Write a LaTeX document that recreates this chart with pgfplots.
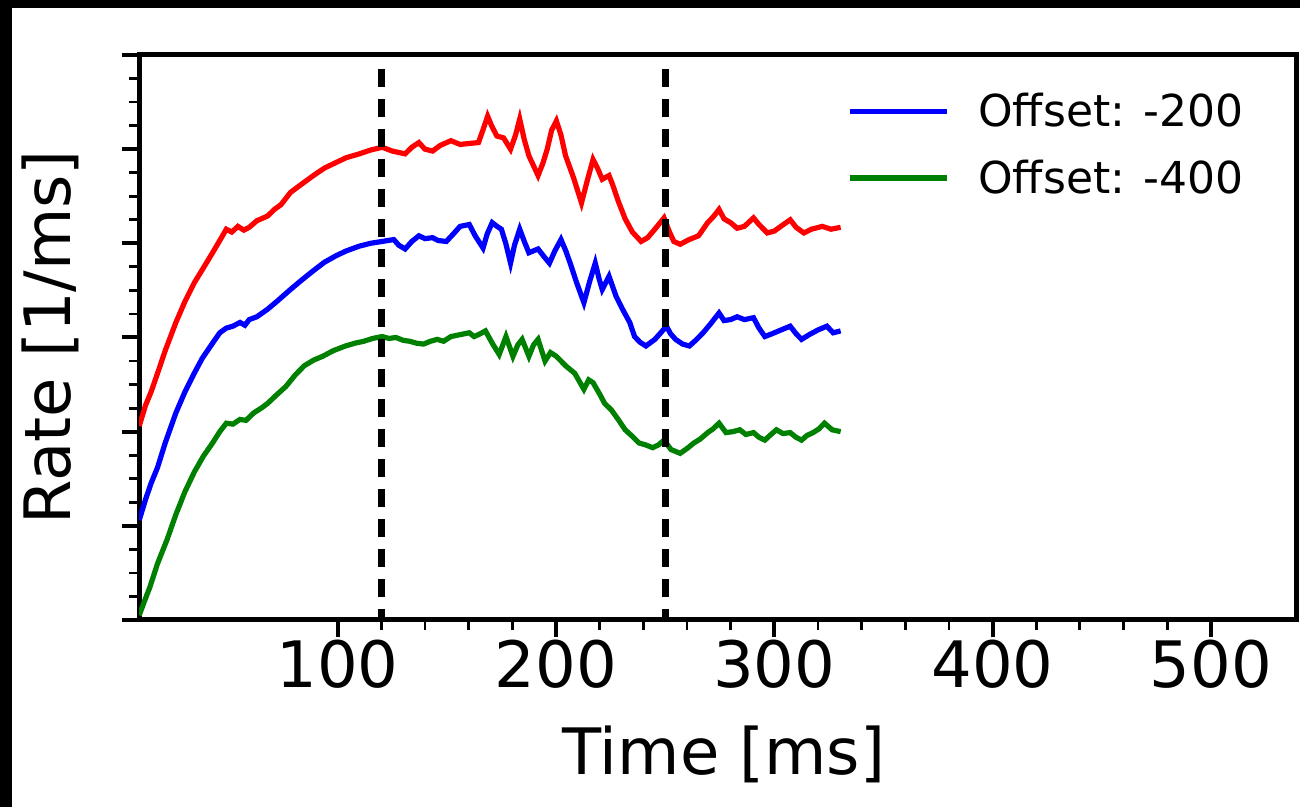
\documentclass[border=0pt]{standalone}
\usepackage{pgfplots}
\pgfplotsset{compat=1.18}
\usepackage{pgfplotstable}
\usepackage{fontspec}
\setmainfont{DejaVu Sans}

\definecolor{mplred}{RGB}{255,0,0}
\definecolor{mplblue}{RGB}{0,0,255}
\definecolor{mplgreen}{RGB}{0,128,0}

% firing rate traces (time in ms, rate in 1/ms, stacked)
\pgfplotstableread{
t r
9.1 2.06
12 2.28
14.5 2.42
17.5 2.62
21 2.86
25.9 3.16
30 3.38
34.3 3.58
38 3.72
42.7 3.90
46 4.03
49.0 4.15
51.5 4.12
54.3 4.18
57 4.14
59.5 4.17
63 4.24
67.9 4.29
71 4.36
74 4.41
78.4 4.54
83 4.62
88.9 4.72
94 4.80
99.4 4.86
104 4.91
109.9 4.95
115 4.99
120.4 5.02
125 4.98
130.9 4.95
134 5.02
137.2 5.07
140 5.00
143.5 4.98
147 5.04
151.9 5.09
156.1 5.05
160 5.06
164.5 5.07
166.5 5.20
168.7 5.35
170.5 5.25
172.9 5.14
176 5.12
179.2 5.00
181.5 5.15
183.4 5.32
185.5 5.10
187.6 4.93
191.8 4.72
194 4.85
196.0 5.00
198 5.20
200.2 5.30
202.3 5.15
204.4 4.93
208 4.70
211.7 4.43
214.5 4.68
217.0 4.89
219 4.80
221.2 4.68
224.3 4.72
226 4.62
228.5 4.45
231.7 4.26
235 4.12
239.0 4.02
242 4.06
245.3 4.15
249.5 4.27
252 4.12
254 4.02
256.9 3.99
261 4.04
265.3 4.08
269.5 4.22
272 4.28
274.7 4.36
277 4.26
280.0 4.22
283 4.16
286.3 4.18
290.5 4.27
293 4.20
296.8 4.11
300 4.13
303 4.18
307.3 4.25
310 4.17
313.6 4.11
317 4.15
322.0 4.18
326 4.15
330.4 4.17
}\redtrace

\pgfplotstableread{
t r
9.1 1.06
12 1.28
14.5 1.45
17.5 1.62
21 1.88
25.9 2.20
30 2.42
34.3 2.62
38 2.78
42.7 2.94
46 3.05
49.0 3.10
52 3.12
55.3 3.16
57.5 3.13
59.5 3.19
63 3.22
67.9 3.30
72 3.38
78.4 3.51
83 3.60
88.9 3.71
94 3.80
99.4 3.87
104 3.92
109.9 3.97
115 4.00
120.4 4.02
125.7 4.04
128 3.98
130.9 3.94
134 4.02
137.2 4.08
140 4.05
143.5 4.06
146 4.03
149.8 4.02
153 4.10
156.1 4.18
160.3 4.20
163 4.08
166.6 3.95
168.5 4.10
170.8 4.22
173 4.18
175.0 4.15
177 4.00
179.2 3.79
181 3.98
183.4 4.15
185.5 4.02
187.6 3.90
191.8 3.94
194.5 3.86
197.0 3.79
199.5 3.92
202.3 4.04
204.5 3.92
206.5 3.79
209.5 3.58
212.8 3.37
215.5 3.60
218.0 3.79
219.8 3.62
221.2 3.51
224.3 3.65
227.5 3.44
230.5 3.30
233.8 3.16
236.0 3.01
238.5 2.95
241.2 2.91
245.3 2.98
248 3.05
250.6 3.12
252.5 3.04
254.8 2.98
258 2.93
261.1 2.91
264 2.97
267.4 3.05
271 3.15
274.7 3.26
277 3.18
280.0 3.19
283 3.22
286.3 3.19
290.5 3.21
293 3.10
295.7 3.01
299 3.04
303.1 3.08
307.3 3.12
310 3.04
312.5 2.98
316 3.03
320.0 3.08
324.1 3.12
327 3.05
330.4 3.07
}\bluetrace

\pgfplotstableread{
t r
9.1 0.05
11.5 0.20
14 0.35
17.5 0.60
21.8 0.85
25.9 1.12
30 1.36
34.3 1.57
38.5 1.74
42.7 1.88
46 2.00
49.0 2.09
52 2.08
55.3 2.13
58 2.12
61.6 2.20
65 2.25
67.9 2.30
72 2.39
76.3 2.48
80.5 2.60
84.7 2.70
89 2.76
93.1 2.80
98 2.86
103.6 2.91
108 2.94
112.0 2.96
116 2.99
120.4 3.01
123.5 2.99
126.7 3.00
130 2.97
133.0 2.96
136 2.94
139.3 2.93
142.5 2.96
145.6 2.98
148.5 2.96
151.9 3.01
156 3.03
160.3 3.05
162.5 3.01
164.5 3.03
167.7 3.07
170.8 2.94
174.0 2.82
177.1 3.01
180.3 2.80
182.5 2.92
184.5 2.98
187.6 2.80
189.7 2.92
191.8 2.98
195.0 2.75
197.5 2.84
200.2 2.80
204.4 2.70
208.6 2.62
212.8 2.45
215 2.55
217.0 2.52
220 2.40
222.3 2.30
225.4 2.23
228.5 2.13
231.7 2.02
235 1.95
238.0 1.88
241 1.86
244.3 1.83
247 1.86
249.5 1.91
252.7 1.81
256.9 1.77
260 1.82
263.2 1.88
266 1.92
269.5 1.99
272 2.03
274.7 2.09
277.9 1.99
281 2.00
284.2 2.02
287 1.97
290.5 1.99
293 1.94
295.7 1.91
298 1.96
301.0 2.02
304 1.98
307.3 1.99
310 1.94
312.5 1.91
315 1.96
317.8 1.99
320.5 2.03
323.0 2.09
326.5 2.02
330.4 2.00
}\greentrace

\begin{document}
\begin{tikzpicture}
% page frame
\path[use as bounding box] (0,0) rectangle (650pt,403.5pt);
\fill[black] (0,0) rectangle (650pt,403.5pt);
\fill[white] (6pt,0) rectangle (650pt,399.5pt);
\begin{axis}[
  at={(69.5pt,93.5pt)}, anchor=south west,
  scale only axis, width=578.5pt, height=282.5pt,
  xmin=9, xmax=539, ymin=0, ymax=6,
  axis line style={line width=2.5pt},
  tick pos=left, tick align=outside,
  xtick={100,200,300,400,500},
  minor x tick num=4,
  ytick={0,1,2,3,4,5,6}, yticklabels={},
  minor y tick num=3,
  major tick length=8.5pt, minor tick length=5pt,
  every major tick/.append style={line width=2pt, black},
  every minor tick/.append style={line width=1.4pt, black},
  /pgf/number format/assume math mode=true,
  ticklabel style={font=\fontsize{32}{38}\selectfont},
  xticklabel style={anchor=base, yshift=-25.5pt},
  label style={font=\fontsize{32}{38}\selectfont},
  xlabel={Time [ms]},
  xlabel style={at={(axis description cs:0.5056,-0.2743)}, anchor=base},
  ylabel={Rate [1/ms]},
  ylabel style={at={(axis description cs:-0.0595,0.5)}, anchor=base, rotate=0},
  legend style={draw=none, fill=none, at={(rel axis cs:0.607,0.947)}, anchor=north west,
    font=\fontsize{22}{26}\selectfont, row sep=11pt, legend cell align=left},
  legend image code/.code={\draw[#1, line width=2.6pt] (0pt,0pt) -- (48.5pt,0pt);
    \path[draw=none] (0pt,0pt) -- (62pt,0pt);},
]
\addplot[mplred, line width=2.6pt, forget plot] table[x=t, y=r] {\redtrace};
\addplot[mplblue, line width=2.6pt] table[x=t, y=r] {\bluetrace};
\addlegendentry{Offset: -200}
\addplot[mplgreen, line width=2.6pt] table[x=t, y=r] {\greentrace};
\addlegendentry{Offset: -400}
% stimulus markers
\addplot[black, line width=3.5pt, dash pattern=on 9pt off 6pt, forget plot] coordinates {(120,5.85) (120,0)};
\addplot[black, line width=3.5pt, dash pattern=on 9pt off 6pt, forget plot] coordinates {(250,5.85) (250,0)};
\end{axis}
\end{tikzpicture}
\end{document}
